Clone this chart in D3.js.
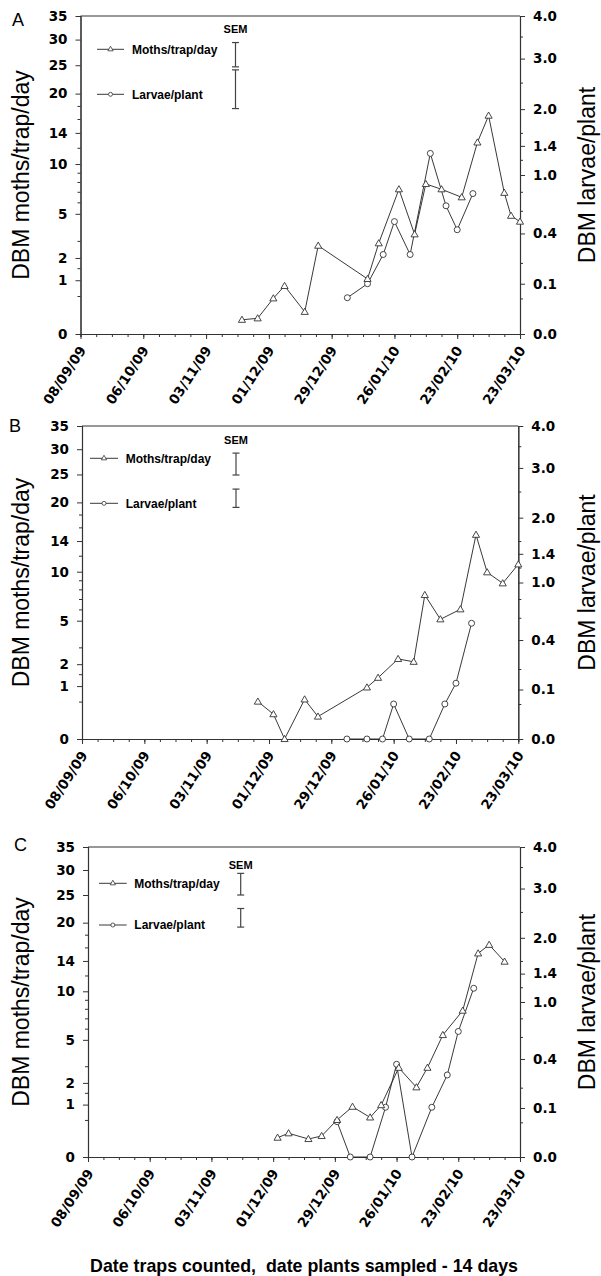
<!DOCTYPE html>
<html>
<head>
<meta charset="utf-8">
<script src="https://cdn.jsdelivr.net/npm/d3@7"></script>
<style>
  html, body { margin: 0; padding: 0; background: #fff; }
  svg { display: block; }
  .tick-label { font-family: "DejaVu Sans", sans-serif; font-weight: bold; font-size: 13.5px; fill: #000; }
  .legend-text { font-family: "Liberation Sans", Arial, sans-serif; font-weight: bold; font-size: 12px; fill: #000; }
  .y-title { font-family: "Liberation Sans", Arial, sans-serif; font-size: 23px; fill: #000; }
  .x-title { font-family: "Liberation Sans", Arial, sans-serif; font-weight: bold; font-size: 17.8px; fill: #000; white-space: pre; }
  .panel-letter { font-family: "Liberation Sans", Arial, sans-serif; font-size: 18px; fill: #000; }
</style>
</head>
<body>
<svg id="chart" width="601" height="1276"></svg>
<script>
// ---- Axis ticks ----
const dateTicks = ["08/09/09", "06/10/09", "03/11/09", "01/12/09", "29/12/09", "26/01/10", "23/02/10", "23/03/10"];
const mothTicks = [0, 1, 2, 5, 10, 14, 20, 25, 30, 35];
const mothMinorTicks = [0.5, 1.5, 3, 6, 7, 8, 9, 12, 16, 18];
const larvaTicks = [0, 0.1, 0.4, 1.0, 1.4, 2.0, 3.0, 4.0];
const larvaMinorTicks = [0.05, 0.2, 0.6, 0.8, 1.2, 1.6, 2.5, 3.5];

// ---- Site A ----
const mothDatesA = ["19/11/09", "26/11/09", "03/12/09", "08/12/09", "17/12/09", "23/12/09", "14/01/10", "19/01/10", "28/01/10", "04/02/10", "09/02/10", "16/02/10", "25/02/10", "04/03/10", "09/03/10", "16/03/10", "19/03/10", "23/03/10"];
const mothsA = [0.07, 0.085, 0.44, 0.80, 0.17, 2.70, 1.05, 2.85, 7.25, 3.44, 7.79, 7.25, 6.47, 12.7, 16.5, 6.9, 4.84, 4.37];
const larvaDatesA = ["05/01/10", "14/01/10", "21/01/10", "26/01/10", "02/02/10", "11/02/10", "18/02/10", "23/02/10", "02/03/10"];
const larvaeA = [0.052, 0.10, 0.25, 0.50, 0.25, 1.29, 0.65, 0.43, 0.78];
const semMothsA = [24.7, 29.4];
const semLarvaeA = [2.01, 2.76];

// ---- Site B ----
const mothDatesB = ["26/11/09", "03/12/09", "08/12/09", "17/12/09", "23/12/09", "14/01/10", "19/01/10", "28/01/10", "04/02/10", "09/02/10", "16/02/10", "25/02/10", "04/03/10", "09/03/10", "16/03/10", "23/03/10"];
const mothsB = [0.50, 0.22, 0, 0.56, 0.18, 0.95, 1.34, 2.29, 2.13, 7.41, 5.12, 6.01, 14.9, 9.93, 8.66, 10.9];
const larvaDatesB = ["05/01/10", "14/01/10", "21/01/10", "26/01/10", "02/02/10", "11/02/10", "18/02/10", "23/02/10", "02/03/10"];
const larvaeB = [0, 0, 0, 0.05, 0, 0, 0.05, 0.127, 0.547];
const semMothsB = [24.9, 29.2];
const semLarvaeB = [2.19, 2.55];

// ---- Site C ----
const mothDatesC = ["03/12/09", "08/12/09", "17/12/09", "23/12/09", "30/12/09", "06/01/10", "14/01/10", "19/01/10", "27/01/10", "04/02/10", "09/02/10", "16/02/10", "25/02/10", "04/03/10", "09/03/10", "16/03/10"];
const mothsC = [0.136, 0.205, 0.118, 0.161, 0.50, 0.92, 0.57, 0.98, 2.90, 1.77, 2.90, 5.42, 7.80, 15.1, 16.4, 13.9];
const larvaDatesC = ["30/12/09", "05/01/10", "14/01/10", "21/01/10", "26/01/10", "02/02/10", "11/02/10", "18/02/10", "23/02/10", "02/03/10"];
const larvaeC = [0.052, 0, 0, 0.103, 0.358, 0, 0.103, 0.28, 0.656, 1.185];
const semMothsC = [25.0, 29.3];
const semLarvaeC = [2.20, 2.57];

const parseDate = d3.utcParse("%d/%m/%y");
const svg = d3.select("#chart");

const panels = [
  { letter: "A", letterPos: [12, 26], left: 80.5, right: 520, top: 16, bottom: 334,
    mothDates: mothDatesA, moths: mothsA, larvaDates: larvaDatesA, larvae: larvaeA,
    semMoths: semMothsA, semLarvae: semLarvaeA,
    legend: { x0: 16.5, x1: 43.5, tx: 51.5, y1: 33.3, y2: 78.3 }, sem: { x: 155, labelY: 17 } },
  { letter: "B", letterPos: [9, 432], left: 82, right: 518.3, top: 426, bottom: 739,
    mothDates: mothDatesB, moths: mothsB, larvaDates: larvaDatesB, larvae: larvaeB,
    semMoths: semMothsB, semLarvae: semLarvaeB,
    legend: { x0: 8, x1: 36, tx: 43.7, y1: 32.3, y2: 77.3 }, sem: { x: 154, labelY: 18 } },
  { letter: "C", letterPos: [14, 851], left: 88, right: 520, top: 847, bottom: 1157,
    mothDates: mothDatesC, moths: mothsC, larvaDates: larvaDatesC, larvae: larvaeC,
    semMoths: semMothsC, semLarvae: semLarvaeC,
    legend: { x0: 11, x1: 38.7, tx: 46.3, y1: 36.3, y2: 78 }, sem: { x: 152.7, labelY: 22 } }
];

const axisColor = "#333";
const lineColor = "#222";
const triangle = d3.symbol().type(d3.symbolTriangle);

function styleAxis(g) {
  g.selectAll("path.domain").attr("stroke", axisColor).attr("stroke-width", 1.1);
  g.selectAll(".tick line").attr("stroke", axisColor).attr("stroke-width", 1);
}

panels.forEach(p => {
  const g = svg.append("g");

  const x = d3.scaleUtc()
    .domain([parseDate(dateTicks[0]), parseDate(dateTicks[dateTicks.length - 1])])
    .range([p.left, p.right]);
  const yM = d3.scaleSqrt().domain([0, 35]).range([p.bottom, p.top]);
  const yL = d3.scaleSqrt().domain([0, 4]).range([p.bottom, p.top]);

  // frame top line
  g.append("line")
    .attr("x1", p.left).attr("x2", p.right)
    .attr("y1", p.top).attr("y2", p.top)
    .attr("stroke", axisColor).attr("stroke-width", 1.1);

  // left axis: minor then major
  const lm = g.append("g").attr("transform", `translate(${p.left},0)`)
    .call(d3.axisLeft(yM).tickValues(mothMinorTicks).tickSize(3).tickFormat(""));
  styleAxis(lm);
  const la = g.append("g").attr("transform", `translate(${p.left},0)`)
    .call(d3.axisLeft(yM).tickValues(mothTicks).tickSize(5).tickSizeOuter(0).tickPadding(8).tickFormat(d3.format("d")));
  styleAxis(la);
  la.selectAll(".tick text").attr("class", "tick-label").attr("font-family", null).attr("font-size", null);

  // right axis
  const rm = g.append("g").attr("transform", `translate(${p.right},0)`)
    .call(d3.axisRight(yL).tickValues(larvaMinorTicks).tickSize(3).tickFormat(""));
  styleAxis(rm);
  const ra = g.append("g").attr("transform", `translate(${p.right},0)`)
    .call(d3.axisRight(yL).tickValues(larvaTicks).tickSize(5).tickSizeOuter(0).tickPadding(8).tickFormat(d3.format(".1f")));
  styleAxis(ra);
  ra.selectAll(".tick text").attr("class", "tick-label").attr("font-family", null).attr("font-size", null);

  // bottom date axis: weekly minor ticks, 4-weekly labelled ticks
  const start = parseDate(dateTicks[0]);
  const end = parseDate(dateTicks[dateTicks.length - 1]);
  const weeks = d3.utcDay.range(start, d3.utcDay.offset(end, 1), 7);
  const bm = g.append("g").attr("transform", `translate(0,${p.bottom})`)
    .call(d3.axisBottom(x).tickValues(weeks).tickSize(3).tickFormat(""));
  styleAxis(bm);
  const ba = g.append("g").attr("transform", `translate(0,${p.bottom})`)
    .call(d3.axisBottom(x).tickValues(dateTicks.map(parseDate)).tickSize(5).tickSizeOuter(0)
      .tickFormat(d3.utcFormat("%d/%m/%y")));
  styleAxis(ba);
  ba.selectAll(".tick text")
    .attr("class", "tick-label").attr("font-family", null).attr("font-size", null)
    .attr("text-anchor", "end")
    .attr("dy", null)
    .attr("y", 0)
    .attr("transform", "translate(5.5,16) rotate(-57)");

  // series lines
  const mothPts = p.mothDates.map((d, i) => [x(parseDate(d)), yM(p.moths[i])]);
  const larvaPts = p.larvaDates.map((d, i) => [x(parseDate(d)), yL(p.larvae[i])]);
  const line = d3.line();
  g.append("path").attr("d", line(mothPts)).attr("fill", "none").attr("stroke", lineColor).attr("stroke-width", 0.9);
  g.append("path").attr("d", line(larvaPts)).attr("fill", "none").attr("stroke", lineColor).attr("stroke-width", 0.9);

  // markers
  g.selectAll(null).data(larvaPts).join("circle")
    .attr("cx", d => d[0]).attr("cy", d => d[1]).attr("r", 3)
    .attr("fill", "#fff").attr("stroke", "#333").attr("stroke-width", 0.9);
  g.selectAll(null).data(mothPts).join("path")
    .attr("d", triangle.size(22))
    .attr("transform", d => `translate(${d[0]},${d[1] + 0.5})`)
    .attr("fill", "#fff").attr("stroke", "#333").attr("stroke-width", 0.9);

  // legend
  const L = p.legend;
  const ly1 = p.top + L.y1, ly2 = p.top + L.y2;
  [[ly1, "Moths/trap/day", "tri"], [ly2, "Larvae/plant", "circ"]].forEach(([yy, label, kind]) => {
    g.append("line").attr("x1", p.left + L.x0).attr("x2", p.left + L.x1)
      .attr("y1", yy).attr("y2", yy).attr("stroke", lineColor).attr("stroke-width", 0.9);
    const mx = p.left + (L.x0 + L.x1) / 2;
    if (kind === "tri") {
      g.append("path").attr("d", triangle.size(12)).attr("transform", `translate(${mx},${yy})`)
        .attr("fill", "#fff").attr("stroke", "#333").attr("stroke-width", 0.8);
    } else {
      g.append("circle").attr("cx", mx).attr("cy", yy).attr("r", 2)
        .attr("fill", "#fff").attr("stroke", "#333").attr("stroke-width", 0.8);
    }
    g.append("text").attr("class", "legend-text").attr("x", p.left + L.tx).attr("y", yy + 4.3).text(label);
  });

  // SEM bars
  const sx = p.left + p.sem.x;
  g.append("text").attr("class", "legend-text").attr("x", sx).attr("y", p.top + p.sem.labelY)
    .attr("text-anchor", "middle").style("font-size", "11px").text("SEM");
  [[yM(p.semMoths[0]), yM(p.semMoths[1])], [yL(p.semLarvae[0]), yL(p.semLarvae[1])]].forEach(([y0, y1]) => {
    g.append("line").attr("x1", sx).attr("x2", sx).attr("y1", y0).attr("y2", y1).attr("stroke", "#444").attr("stroke-width", 1.2);
    [y0, y1].forEach(yy => g.append("line").attr("x1", sx - 3.5).attr("x2", sx + 3.5).attr("y1", yy).attr("y2", yy)
      .attr("stroke", "#444").attr("stroke-width", 1.2));
  });

  // axis titles
  const mid = (p.top + p.bottom) / 2;
  g.append("text").attr("class", "y-title").attr("text-anchor", "middle")
    .attr("transform", `translate(28.5,${mid}) rotate(-90)`).text("DBM moths/trap/day");
  g.append("text").attr("class", "y-title").attr("text-anchor", "middle")
    .attr("transform", `translate(595,${mid}) rotate(-90)`).text("DBM larvae/plant");

  // panel letter
  g.append("text").attr("class", "panel-letter").attr("x", p.letterPos[0]).attr("y", p.letterPos[1]).text(p.letter);
});

svg.append("text").attr("class", "x-title").attr("text-anchor", "middle")
  .attr("x", 304).attr("y", 1272)
  .text("Date traps counted,  date plants sampled - 14 days");
</script>
</body>
</html>
